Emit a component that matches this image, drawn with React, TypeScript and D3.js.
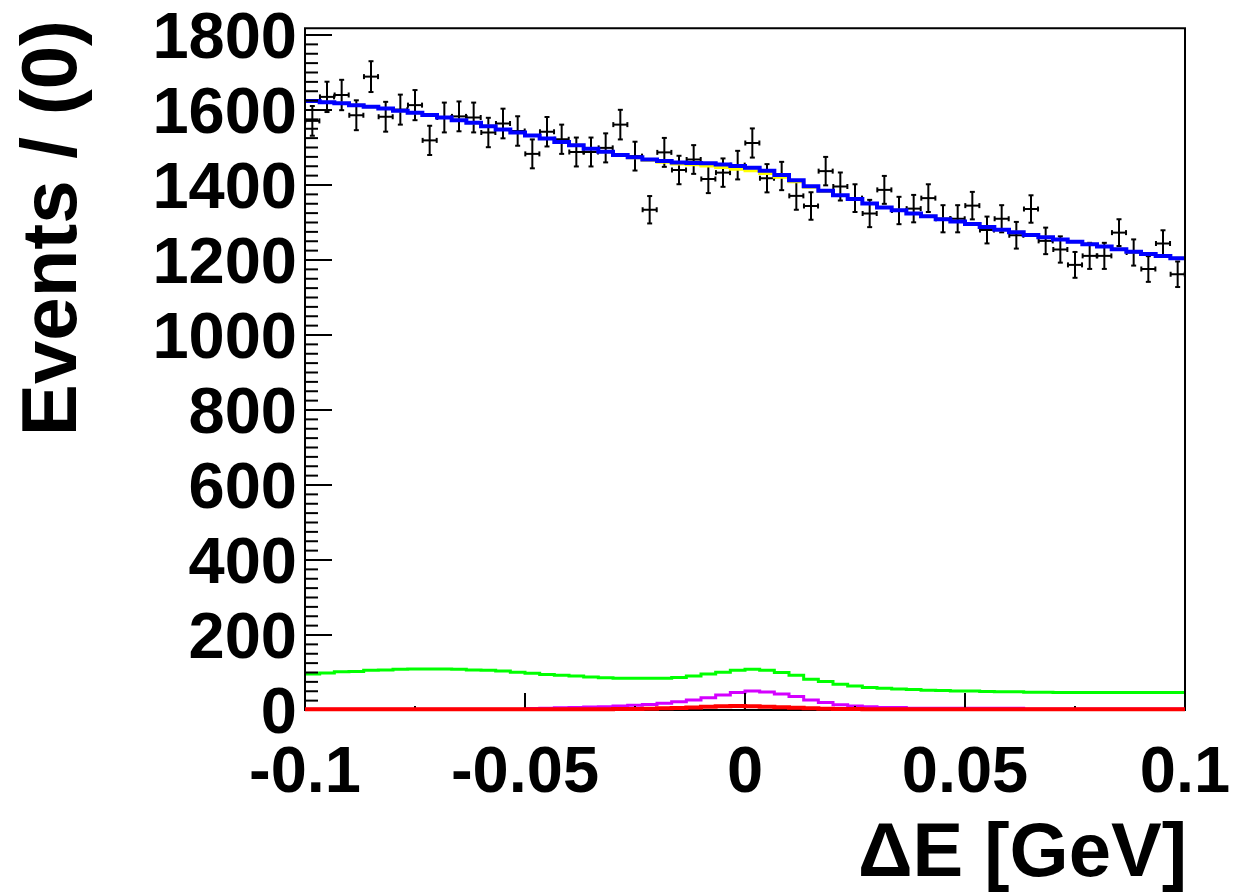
import React from "react";
import * as d3 from "d3";

// ---- data (60 bins over ΔE ∈ [-0.1, 0.1]) ----
const xMin = -0.1;
const xMax = 0.1;
const nBins = 60;

const dataCounts = [
  1571, 1635, 1640, 1586, 1689, 1582, 1601, 1613, 1519, 1580,
  1583, 1580, 1540, 1564, 1544, 1483, 1542, 1522, 1488, 1488,
  1499, 1561, 1477, 1334, 1487, 1440, 1468, 1416, 1433, 1453,
  1512, 1418, 1424, 1371, 1344, 1437, 1396, 1365, 1324, 1387,
  1332, 1337, 1365, 1310, 1310, 1345, 1280, 1310, 1266, 1336,
  1251, 1228, 1187, 1211, 1211, 1273, 1220, 1176, 1244, 1162,
];

const totalFit = [
  1624, 1621, 1618, 1613, 1609, 1604, 1598, 1593, 1587, 1580,
  1573, 1566, 1557, 1548, 1540, 1532, 1524, 1515, 1506, 1497,
  1489, 1480, 1474, 1468, 1464, 1460, 1459, 1458, 1455, 1451,
  1446, 1438, 1427, 1413, 1397, 1385, 1373, 1363, 1351, 1340,
  1333, 1324, 1317, 1309, 1303, 1296, 1288, 1281, 1274, 1267,
  1261, 1255, 1249, 1242, 1236, 1229, 1222, 1216, 1211, 1205,
];

const bkgSum = [
  1624, 1621, 1618, 1613, 1609, 1604, 1598, 1593, 1587, 1580,
  1573, 1566, 1557, 1548, 1540, 1532, 1524, 1515, 1506, 1497,
  1489, 1479, 1473, 1466, 1461, 1456, 1454, 1451, 1447, 1442,
  1438, 1431, 1421, 1409, 1394, 1383, 1372, 1362, 1351, 1340,
  1333, 1324, 1317, 1309, 1303, 1296, 1288, 1281, 1274, 1267,
  1261, 1255, 1249, 1242, 1236, 1229, 1222, 1216, 1211, 1205,
];

const greenComp = [
  96, 99, 102, 103, 106, 107, 109, 109.5, 109.5, 109.5,
  109, 107, 106, 104, 101, 98, 95, 93, 91, 88,
  86, 85, 84.5, 84.5, 85, 87, 91, 96, 101, 106,
  109, 106, 100, 93, 82, 76, 69, 64, 60, 58,
  56, 54.5, 53, 52, 51, 50.5, 49.5, 49, 48.5, 47.5,
  47.5, 47, 47, 47, 47, 47, 47, 47, 47, 47,
];

const magentaComp = [
  2, 2, 2, 2, 2, 2, 2, 2, 2, 2,
  2, 2, 2, 2, 2, 4, 5, 6, 7, 8,
  9, 11, 13, 15, 18, 22, 27, 33, 40, 47,
  51, 48, 43, 36, 27, 20, 14, 11, 9, 7,
  7, 5, 5, 5, 5, 5, 5, 5, 5, 3,
  3, 3, 3, 3, 3, 3, 3, 3, 3, 3,
];

const redComp = [
  1.8, 1.8, 1.8, 1.8, 1.8, 1.8, 1.8, 1.8, 1.8, 1.8,
  1.8, 1.8, 1.8, 1.8, 1.8, 1.8, 1.8, 1.8, 1.8, 1.8,
  1.8, 2.5, 3, 3.5, 4.5, 5.5, 7, 8.5, 10, 10.5,
  10, 9, 7.5, 6, 4.5, 3.5, 3, 2.5, 2.2, 1.8,
  1.8, 1.8, 1.8, 1.8, 1.8, 1.8, 1.8, 1.8, 1.8, 1.8,
  1.8, 1.8, 1.8, 1.8, 1.8, 1.8, 1.8, 1.8, 1.8, 1.8,
];

const xMajorTicks = [-0.1, -0.05, 0, 0.05, 0.1];
const xTickLabels = ["-0.1", "-0.05", "0", "0.05", "0.1"];
const xMinorTicks = [-0.075, -0.025, 0.025, 0.075];
const yMajorTicks = [0, 200, 400, 600, 800, 1000, 1200, 1400, 1600, 1800];
const yTickLabels = ["0", "200", "400", "600", "800", "1000", "1200", "1400", "1600", "1800"];

const W = 1245;
const H = 893;
const FONT = "'Liberation Sans', Arial, Helvetica, sans-serif";

export default function App() {
  const x = d3.scaleLinear().domain([xMin, xMax]).range([305, 1185]);
  const y = d3.scaleLinear().domain([0, 1800]).range([710, 35]);
  const yTop = y(1818);
  const binW = (xMax - xMin) / nBins;
  const binLo = (i: number) => xMin + i * binW;
  const binC = (i: number) => xMin + (i + 0.5) * binW;

  const stepPath = (vals: number[]) => {
    const pts: [number, number][] = vals.map((v, i) => [x(binLo(i)), y(v)]);
    pts.push([x(xMax), y(vals[vals.length - 1])]);
    return d3.line().curve(d3.curveStepAfter)(pts) || "";
  };

  const yMinor: number[] = [];
  for (let v = 0; v <= 1800; v += 25) if (v % 200 !== 0) yMinor.push(v);

  const halfW = (x(binW) - x(0)) / 2 - 0.3;
  const cap = 2.5;

  return (
    <div style={{ position: "absolute", left: 0, top: 0 }}>
      <svg width={W} height={H} style={{ display: "block", background: "#fff" }}>
        {/* data points */}
        <g stroke="#000" strokeWidth={2} fill="none">
          {dataCounts.map((n, i) => {
            const cx = x(binC(i));
            const cy = y(n);
            const e = Math.sqrt(n);
            const y1 = y(n + e);
            const y2 = y(n - e);
            return (
              <g key={i}>
                <line x1={cx} x2={cx} y1={y1} y2={y2} />
                <line x1={cx - halfW} x2={cx + halfW} y1={cy} y2={cy} />
                <line x1={cx - cap} x2={cx + cap} y1={y1} y2={y1} />
                <line x1={cx - cap} x2={cx + cap} y1={y2} y2={y2} />
                <line x1={cx - halfW} x2={cx - halfW} y1={cy - cap} y2={cy + cap} />
                <line x1={cx + halfW} x2={cx + halfW} y1={cy - cap} y2={cy + cap} />
              </g>
            );
          })}
        </g>

        {/* curves */}
        <path d={stepPath(bkgSum)} stroke="#ffff00" strokeWidth={3} fill="none" />
        <path d={stepPath(totalFit)} stroke="#0000ff" strokeWidth={4} fill="none" />
        <path d={stepPath(greenComp)} stroke="#00ff00" strokeWidth={3} fill="none" />
        <path d={stepPath(magentaComp)} stroke="#d400ff" strokeWidth={3} fill="none" />

        {/* frame */}
        <rect x={305} y={yTop} width={880} height={710 - yTop} fill="none" stroke="#000" strokeWidth={2} />

        {/* ticks */}
        <g stroke="#000" strokeWidth={2}>
          {yMajorTicks.map((v) => (
            <line key={"ym" + v} x1={305} x2={332} y1={y(v)} y2={y(v)} />
          ))}
          {yMinor.map((v) => (
            <line key={"yn" + v} x1={305} x2={318} y1={y(v)} y2={y(v)} />
          ))}
          {xMajorTicks.map((v) => (
            <line key={"xm" + v} x1={x(v)} x2={x(v)} y1={710} y2={693} />
          ))}
          {xMinorTicks.map((v) => (
            <line key={"xn" + v} x1={x(v)} x2={x(v)} y1={710} y2={706} />
          ))}
        </g>

        <path d={stepPath(redComp)} stroke="#ff0000" strokeWidth={4} fill="none" />

        {/* tick labels */}
        <g fontFamily={FONT} fontWeight="bold" fontSize={65} fill="#000">
          {yMajorTicks.map((v, i) => (
            <text key={"yl" + v} x={297} y={y(v)} textAnchor="end" dominantBaseline="central">
              {yTickLabels[i]}
            </text>
          ))}
          {xMajorTicks.map((v, i) => (
            <text key={"xl" + v} x={x(v)} y={792} textAnchor="middle">
              {xTickLabels[i]}
            </text>
          ))}
        </g>

        {/* axis titles */}
        <text
          fontFamily={FONT}
          fontWeight="bold"
          fontSize={76}
          x={1187}
          y={876}
          textAnchor="end"
        >
          ΔE [GeV]
        </text>
        <text
          fontFamily={FONT}
          fontWeight="bold"
          fontSize={78}
          textAnchor="end"
          transform={`translate(76, 20) rotate(-90)`}
        >
          Events / (0)
        </text>
      </svg>
    </div>
  );
}
